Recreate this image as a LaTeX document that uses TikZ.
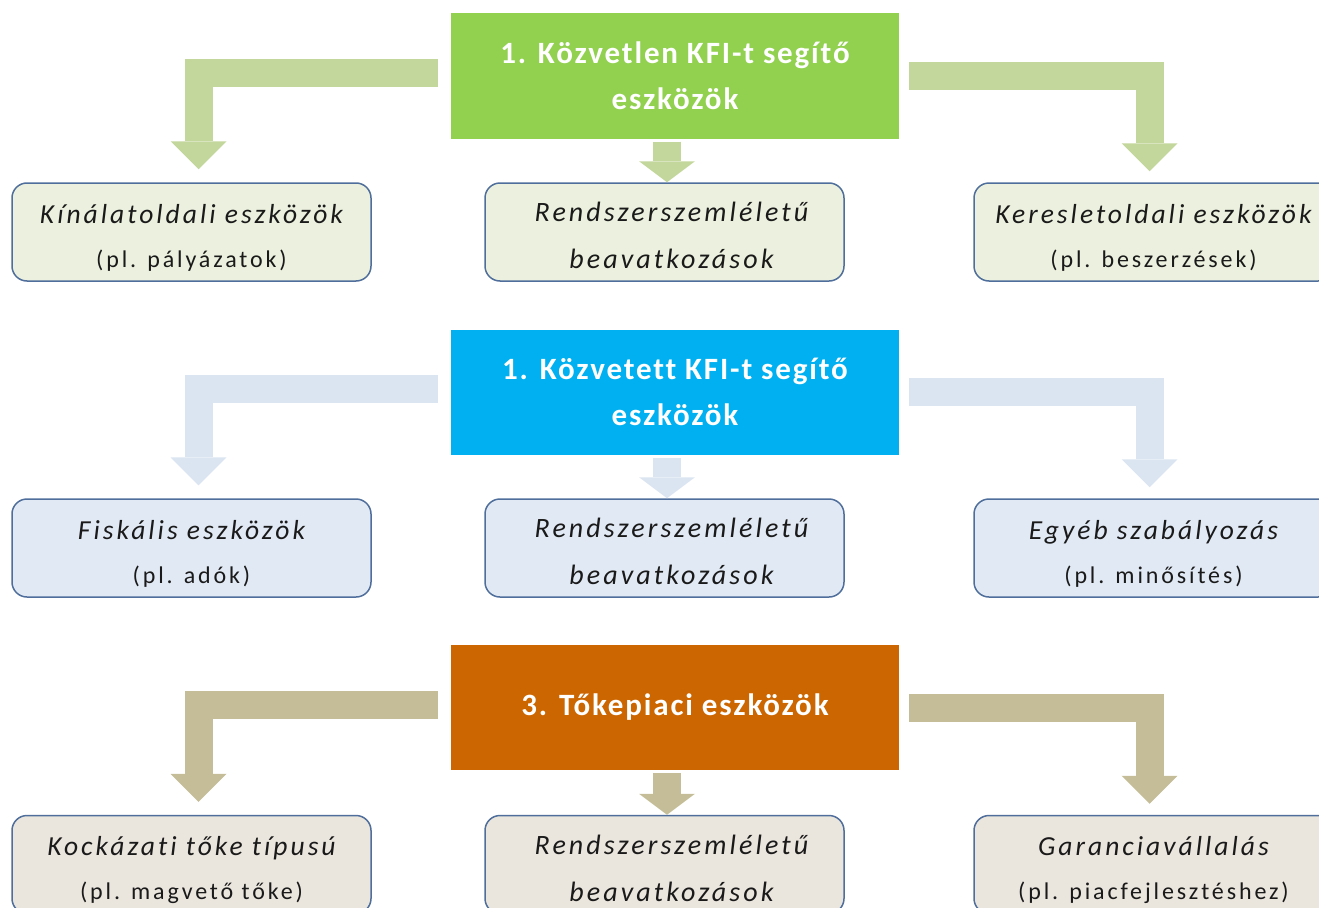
\documentclass[tikz,border=0pt]{standalone}
\usepackage{fontspec}
\setmainfont{Carlito}[Ligatures=NoCommon]
\usetikzlibrary{arrows.meta}
\definecolor{hgreen}{HTML}{92D050}
\definecolor{hblue}{HTML}{00B0F0}
\definecolor{horange}{HTML}{CC6600}
\definecolor{agreen}{HTML}{C3D69B}
\definecolor{ablue}{HTML}{DBE5F1}
\definecolor{atan}{HTML}{C4BD97}
\definecolor{fgreen}{HTML}{EBF1DE}
\definecolor{fblue}{HTML}{E1E9F4}
\definecolor{ftan}{HTML}{EAE5DD}
\definecolor{boxline}{HTML}{4F6E9B}
\definecolor{btext}{HTML}{1A1A1A}
\newcommand\mytopstrut{\rule{0pt}{30pt}}
\newcommand\mymidstrut{\rule{0pt}{27pt}}
\newcommand\secondln{\upshape\fontsize{24}{44}\selectfont\addfontfeatures{LetterSpace=12}}
\begin{document}
\begin{tikzpicture}[x=1pt,y=-1pt,
  hdr/.style={fill=#1, minimum width=448pt, minimum height=125pt, inner sep=0pt,
    text=white, font=\fontsize{31}{46}\selectfont\bfseries\addfontfeatures{LetterSpace=6}, align=center},
  sbox/.style={draw=boxline, line width=1.5pt, rounded corners=15pt, fill=#1,
    minimum width=359pt, minimum height=98pt, inner sep=0pt, align=center,
    text=btext, font=\itshape\fontsize{27.5}{44}\selectfont\addfontfeatures{LetterSpace=11}},
  mbox/.style={sbox=#1, font=\itshape\fontsize{28}{47}\selectfont\addfontfeatures{LetterSpace=11}},
  bent/.style={draw=#1, line width=28pt, line join=miter,
    -{Triangle[width=56pt,length=28pt,line width=0pt]}},
  straight/.style={draw=#1, line width=28pt,
    -{Triangle[width=56pt,length=21pt,line width=0pt]}}]
\useasboundingbox (0,0) rectangle (1319,907);
\clip (0,0) rectangle (1319,907);

% ---------- Row 1 ----------
\node[hdr=hgreen] (h1) at (675,76) {1. Közvetlen KFI-t segítő\\eszközök};
\node[sbox=fgreen] (b11) at (191.5,232) {\mytopstrut Kínálatoldali eszközök\\\secondln (pl. pályázatok)};
\node[mbox=fgreen] (b12) at (664.5,232) {\mymidstrut\hspace*{14pt}Rendszerszemléletű\\\hspace*{14pt}beavatkozások};
\node[sbox=fgreen] (b13) at (1153.5,232) {\mytopstrut Keresletoldali eszközök\\\secondln (pl. beszerzések)};
\draw[bent=agreen, shorten >=13pt] ([xshift=-13pt,yshift=3pt]h1.west) -| ([xshift=7pt]b11.north);
\draw[bent=agreen, shorten >=11pt] ([xshift=10pt]h1.east) -| ([xshift=-4pt]b13.north);
\draw[straight=agreen] ([xshift=-8pt,yshift=-3pt]h1.south) -- ([xshift=2.5pt]b12.north);

% ---------- Row 2 ----------
\node[hdr=hblue] (h2) at (675,392) {1. Közvetett KFI-t segítő\\eszközök};
\node[sbox=fblue] (b21) at (191.5,548) {\mytopstrut Fiskális eszközök\\\secondln (pl. adók)};
\node[mbox=fblue] (b22) at (664.5,548) {\mymidstrut\hspace*{14pt}Rendszerszemléletű\\\hspace*{14pt}beavatkozások};
\node[sbox=fblue] (b23) at (1153.5,548) {\mytopstrut Egyéb szabályozás\\\secondln (pl. minősítés)};
\draw[bent=ablue, shorten >=13pt] ([xshift=-13pt,yshift=3pt]h2.west) -| ([xshift=7pt]b21.north);
\draw[bent=ablue, shorten >=11pt] ([xshift=10pt]h2.east) -| ([xshift=-4pt]b23.north);
\draw[straight=ablue] ([xshift=-8pt,yshift=-3pt]h2.south) -- ([xshift=2.5pt]b22.north);

% ---------- Row 3 ----------
\node[hdr=horange] (h3) at (675,707.5) {3. Tőkepiaci eszközök};
\node[sbox=ftan] (b31) at (191.5,864.5) {\mytopstrut Kockázati tőke típusú\\\secondln (pl. magvető tőke)};
\node[mbox=ftan] (b32) at (664.5,864.5) {\mymidstrut\hspace*{14pt}Rendszerszemléletű\\\hspace*{14pt}beavatkozások};
\node[sbox=ftan] (b33) at (1153.5,864.5) {\mytopstrut Garanciavállalás\\\secondln (pl. piacfejlesztéshez)};
\draw[bent=atan, shorten >=13pt] ([xshift=-13pt,yshift=3pt]h3.west) -| ([xshift=7pt]b31.north);
\draw[bent=atan, shorten >=11pt] ([xshift=10pt]h3.east) -| ([xshift=-4pt]b33.north);
\draw[straight=atan] ([xshift=-8pt,yshift=-3pt]h3.south) -- ([xshift=2.5pt]b32.north);
\end{tikzpicture}
\end{document}
